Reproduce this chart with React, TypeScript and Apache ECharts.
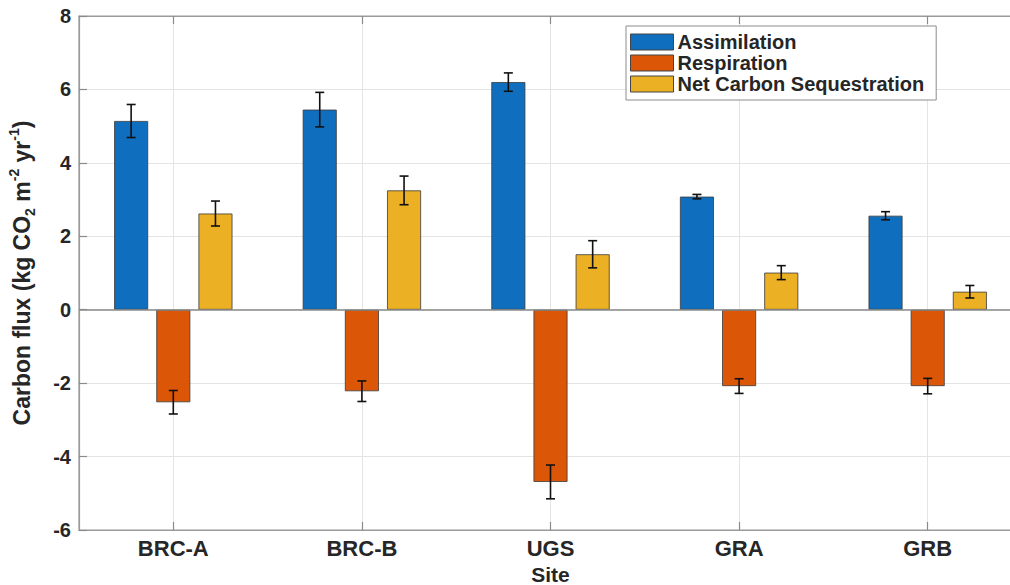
import React, { useEffect, useRef } from "react";
import * as echarts from "echarts";

const categories = ["BRC-A", "BRC-B", "UGS", "GRA", "GRB"];
const assimilation = [5.14, 5.45, 6.2, 3.08, 2.56];
const assimilationErr = [0.45, 0.47, 0.25, 0.06, 0.11];
const respiration = [-2.52, -2.22, -4.69, -2.08, -2.08];
const respirationErr = [0.32, 0.28, 0.46, 0.2, 0.21];
const netSequestration = [2.62, 3.25, 1.51, 1.01, 0.49];
const netSequestrationErr = [0.34, 0.39, 0.37, 0.19, 0.17];
const yTicks = [-6, -4, -2, 0, 2, 4, 6, 8];

const COLORS = ["#0f6fbe", "#db5606", "#ebb024"];
const FONT = "'Liberation Sans', Arial, sans-serif";
const TEXT = "#262626";
const BAR_W = 34;
const BAR_GAP = 0.24;

function errSeries(name: string, vals: number[], errs: number[], offsetIdx: number) {
  const off = offsetIdx * BAR_W * (1 + BAR_GAP);
  return {
    type: "custom",
    name: name + " err",
    z: 5,
    silent: true,
    data: vals.map((v, i) => [i, v - errs[i], v + errs[i]]),
    encode: { x: 0, y: [1, 2] },
    renderItem: (params: any, api: any) => {
      const i = api.value(0);
      const lo = api.coord([i, api.value(1)]);
      const hi = api.coord([i, api.value(2)]);
      const x = lo[0] + off;
      const cap = 4.5;
      const style = { stroke: "#111", lineWidth: 1.6 };
      return {
        type: "group",
        children: [
          { type: "line", shape: { x1: x, y1: lo[1], x2: x, y2: hi[1] }, style },
          { type: "line", shape: { x1: x - cap, y1: lo[1], x2: x + cap, y2: lo[1] }, style },
          { type: "line", shape: { x1: x - cap, y1: hi[1], x2: x + cap, y2: hi[1] }, style },
        ],
      };
    },
  };
}

export default function App() {
  const ref = useRef<HTMLDivElement>(null);
  useEffect(() => {
    if (!ref.current) return;
    const chart = echarts.init(ref.current, undefined, { renderer: "svg" });
    const barStyle = (c: string) => ({ color: c, borderColor: "#3a3a3a", borderWidth: 0.8 });
    chart.setOption({
      animation: false,
      backgroundColor: "#ffffff",
      textStyle: { fontFamily: FONT },
      grid: {
        left: 79,
        right: -12,
        top: 16,
        bottom: 55,
        outerBoundsMode: "none",
        containLabel: false,
        show: true,
        borderColor: "#9a9a9a",
        borderWidth: 1.2,
        backgroundColor: "transparent",
      },
      legend: {
        orient: "vertical",
        left: 626,
        top: 26,
        data: ["Assimilation", "Respiration", "Net Carbon Sequestration"],
        itemWidth: 43,
        itemHeight: 16,
        itemGap: 1,
        padding: [6, 12, 6, 4],
        backgroundColor: "#ffffff",
        borderColor: "#8c8c8c",
        borderWidth: 1,
        icon: "rect",
        itemStyle: { borderColor: "#444", borderWidth: 1 },
        textStyle: {
          fontFamily: FONT,
          fontWeight: "bold",
          fontSize: 20,
          color: TEXT,
          lineHeight: 20,
          padding: [0, 0, 0, -1],
        },
      },
      xAxis: [
        {
          type: "category",
          data: categories,
          position: "bottom",
          name: "Site",
          nameLocation: "middle",
          nameGap: 30,
          nameTextStyle: { fontFamily: FONT, fontWeight: "bold", fontSize: 21, color: TEXT, lineHeight: 21 },
          axisLine: { show: true, onZero: false, lineStyle: { color: "#9a9a9a", width: 1.2 } },
          axisTick: { show: true, inside: true, alignWithLabel: true, length: 8, lineStyle: { color: "#8a8a8a", width: 1.2 } },
          axisLabel: { fontFamily: FONT, fontWeight: "bold", fontSize: 22, color: TEXT, margin: 7 },
          splitLine: { show: true, alignWithLabel: true, lineStyle: { color: "#e4e4e4", width: 1 } },
        },
        {
          type: "category",
          data: categories,
          position: "top",
          axisLine: { show: true, onZero: false, lineStyle: { color: "#9a9a9a", width: 1.2 } },
          axisTick: { show: true, inside: true, alignWithLabel: true, length: 8, lineStyle: { color: "#8a8a8a", width: 1.2 } },
          axisLabel: { show: false },
          splitLine: { show: false },
        },
      ],
      yAxis: {
        type: "value",
        min: -6,
        max: 8,
        interval: 2,
        name:
          "{m|Carbon flux (kg CO}{s|2}{m| m}{p|-2}{m| yr}{p|-1}{m|)}",
        nameLocation: "middle",
        nameRotate: 90,
        nameGap: 42,
        nameTextStyle: {
          fontFamily: FONT,
          fontWeight: "bold",
          fontSize: 23,
          color: TEXT,
          rich: {
            m: { fontFamily: FONT, fontWeight: "bold", fontSize: 23, color: TEXT, lineHeight: 30 },
            s: { fontFamily: FONT, fontWeight: "bold", fontSize: 14, color: TEXT, lineHeight: 14, verticalAlign: "bottom" },
            p: { fontFamily: FONT, fontWeight: "bold", fontSize: 14, color: TEXT, lineHeight: 14, verticalAlign: "top" },
          },
        },
        axisLine: { show: true, lineStyle: { color: "#9a9a9a", width: 1.2 } },
        axisTick: { show: true, inside: true, length: 8, lineStyle: { color: "#8a8a8a", width: 1.2 } },
        axisLabel: {
          fontFamily: FONT,
          fontWeight: "bold",
          fontSize: 20,
          color: TEXT,
          margin: 8,
          formatter: (v: number) => (yTicks.includes(v) ? String(v) : ""),
        },
        splitLine: { show: true, lineStyle: { color: "#e4e4e4", width: 1 } },
      },
      series: [
        {
          type: "bar",
          name: "Assimilation",
          data: assimilation,
          barWidth: BAR_W,
          barGap: BAR_GAP * 100 + "%",
          itemStyle: barStyle(COLORS[0]),
          z: 3,
          markLine: {
            silent: true,
            symbol: "none",
            label: { show: false },
            lineStyle: { color: "#8a8a8a", width: 1.6, type: "solid" },
            data: [{ yAxis: 0 }],
            z: 4,
          },
        },
        {
          type: "bar",
          name: "Respiration",
          data: respiration,
          barWidth: BAR_W,
          barGap: BAR_GAP * 100 + "%",
          itemStyle: barStyle(COLORS[1]),
          z: 3,
        },
        {
          type: "bar",
          name: "Net Carbon Sequestration",
          data: netSequestration,
          barWidth: BAR_W,
          barGap: BAR_GAP * 100 + "%",
          itemStyle: barStyle(COLORS[2]),
          z: 3,
        },
        errSeries("Assimilation", assimilation, assimilationErr, -1),
        errSeries("Respiration", respiration, respirationErr, 0),
        errSeries("Net Carbon Sequestration", netSequestration, netSequestrationErr, 1),
      ],
    });
    return () => chart.dispose();
  }, []);
  return (
    <div
      ref={ref}
      style={{ position: "absolute", left: 0, top: 0, width: 1010, height: 585, background: "#fff" }}
    />
  );
}
